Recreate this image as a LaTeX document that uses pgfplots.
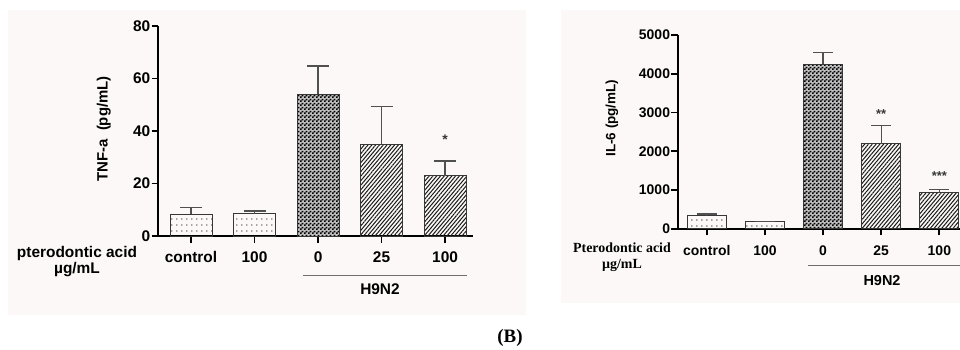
\documentclass[border=0pt]{standalone}
\usepackage{pgfplots}
\pgfplotsset{compat=1.18}
\usepackage{fontspec}
\setmainfont{Liberation Sans}
\newfontfamily\seriffont{Liberation Serif}
\usetikzlibrary{patterns,patterns.meta}
\definecolor{panel}{RGB}{252,248,247}
\definecolor{edge}{RGB}{55,55,55}
\definecolor{errc}{RGB}{80,80,80}
\definecolor{grp}{RGB}{110,110,110}
\pgfdeclarepatternformonly{sdots}{\pgfqpoint{0bp}{0bp}}{\pgfqpoint{4.6bp}{5.8bp}}{\pgfqpoint{4.6bp}{5.8bp}}{\pgfpathcircle{\pgfqpoint{2bp}{2bp}}{0.7bp}\pgfusepath{fill}}
\pgfdeclarepatternformonly{chk}{\pgfqpoint{0bp}{0bp}}{\pgfqpoint{4bp}{4bp}}{\pgfqpoint{4bp}{4bp}}{%
  \pgfpathrectangle{\pgfqpoint{0bp}{0bp}}{\pgfqpoint{2bp}{2bp}}%
  \pgfpathrectangle{\pgfqpoint{2bp}{2bp}}{\pgfqpoint{2bp}{2bp}}\pgfusepath{fill}}
\pgfplotsset{
  barsty/.style={draw=edge, line width=1bp, bar shift=0pt,
    error bars/.cd, y dir=plus, y explicit, error mark=|,
    error bar style={line width=1.3bp, color=errc, solid},
    error mark options={line width=1.3bp, color=errc, mark size=#1},
    /pgfplots/.cd},
  common/.style={
    scale only axis, anchor=south west, ybar, clip=false,
    axis x line=bottom, axis y line=left,
    axis line style={-, line width=2bp, black},
    tick align=outside, major tick length=6.5bp,
    major tick style={line width=1.8bp, black},
    xtick={0,...,4}, xticklabels={control,100,0,25,100},
    /pgf/number format/assume math mode=true,
    /pgf/number format/1000 sep={},
    scaled y ticks=false,
  },
}
\begin{document}
\begin{tikzpicture}[x=1bp,y=1bp]
\useasboundingbox (0,0) rectangle (960,349);
\fill[panel] (8,34) rectangle (526,339);
\fill[panel] (561,46) rectangle (960,339);

% ---------- left panel: TNF-a ----------
\begin{axis}[common,
  at={(158bp,113bp)}, width=315bp, height=210bp,
  xmin=-0.52, xmax=4.44, ymin=0, ymax=80,
  ytick={0,20,40,60,80},
  bar width=42bp,
  tick label style={font=\fontsize{15.5}{15.5}\selectfont\bfseries},
  xticklabel style={anchor=base, yshift=-20bp},
  yticklabel style={anchor=east, inner sep=0pt, xshift=-1bp},
  ylabel={TNF-a\ \ (pg/mL)},
  ylabel style={font=\fontsize{15}{15}\selectfont\bfseries, at={(axis description cs:-0.172,0.51)}, anchor=center},
]
\addplot[pattern=sdots, pattern color=black!80, barsty=11bp] coordinates {(0,8.3) +- (0,2.6) (1,8.5) +- (0,1.0)};
\addplot[preaction={fill=black!25}, pattern=chk, pattern color=black, barsty=11bp] coordinates {(2,54.0) +- (0,10.8)};
\addplot[pattern={Lines[angle=50,distance=2.9bp,line width=1bp]}, pattern color=black!90, barsty=11bp] coordinates {(3,35.0) +- (0,14.3) (4,23.0) +- (0,5.6)};
\node[font=\fontsize{14}{14}\selectfont\bfseries, text=edge] at (axis cs:4,36.6) {*};
\end{axis}
\node[anchor=base, align=center, font=\fontsize{15.5}{12.3}\selectfont\bfseries] at (77,76) {pterodontic acid\\µg/mL};
\draw[grp, line width=1.5bp] (303,73.3) -- (467,73.3);
\node[font=\fontsize{15.5}{15.5}\selectfont\bfseries] at (380,60) {H9N2};

% ---------- right panel: IL-6 ----------
\begin{axis}[common,
  at={(677.7bp,120.3bp)}, width=282.3bp, height=193.7bp,
  xmin=-0.5, xmax=4.355, ymin=0, ymax=5000,
  ytick={0,1000,2000,3000,4000,5000},
  bar width=39bp,
  tick label style={font=\fontsize{14}{14}\selectfont\bfseries},
  xticklabel style={anchor=base, yshift=-20bp},
  yticklabel style={anchor=east, inner sep=0pt, xshift=-1bp},
  ylabel={IL-6 (pg/mL)},
  ylabel style={font=\fontsize{13.5}{13.5}\selectfont\bfseries, at={(axis description cs:-0.233,0.571)}, anchor=center},
]
\addplot[pattern=sdots, pattern color=black!80, barsty=10bp] coordinates {(0,335) +- (0,45) (1,173) +- (0,15)};
\addplot[preaction={fill=black!25}, pattern=chk, pattern color=black, barsty=10bp] coordinates {(2,4243) +- (0,310)};
\addplot[pattern={Lines[angle=50,distance=2.9bp,line width=1bp]}, pattern color=black!90, barsty=10bp] coordinates {(3,2194) +- (0,465) (4,929) +- (0,78)};
\node[font=\fontsize{13}{13}\selectfont\bfseries, text=edge] at (axis cs:3,2961) {**};
\node[font=\fontsize{13}{13}\selectfont\bfseries, text=edge] at (axis cs:4,1360) {***};
\end{axis}
\node[anchor=base, align=center, font=\seriffont\fontsize{14}{16}\selectfont\bfseries] at (622,80.7) {Pterodontic acid\\µg/mL};
\draw[grp, line width=1.5bp] (808,83.3) -- (960,83.3);
\node[font=\fontsize{14.5}{14.5}\selectfont\bfseries] at (882,68) {H9N2};

\node[font=\seriffont\fontsize{19}{19}\selectfont\bfseries] at (510,11) {(B)};
\end{tikzpicture}
\end{document}
